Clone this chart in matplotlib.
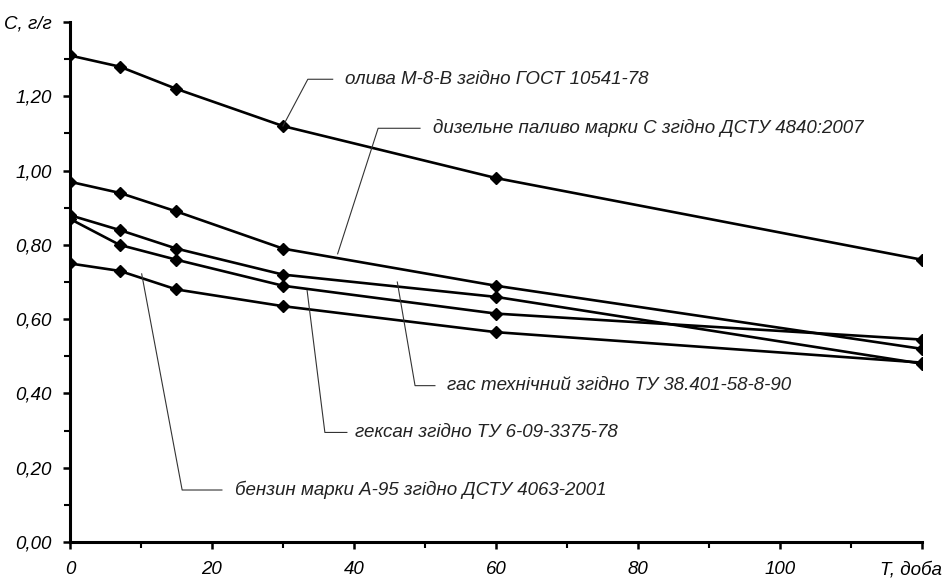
import matplotlib
matplotlib.use("Agg")
import matplotlib.pyplot as plt
from matplotlib.ticker import MultipleLocator
from matplotlib.transforms import ScaledTranslation

plt.rcParams['font.family'] = ['Liberation Sans', 'DejaVu Sans']

# ---- data ----
days = [0, 7, 15, 30, 60, 120]
oil = [1.31, 1.28, 1.22, 1.12, 0.98, 0.76]
diesel = [0.97, 0.94, 0.89, 0.79, 0.69, 0.52]
kerosene = [0.88, 0.84, 0.79, 0.72, 0.66, 0.48]
hexane = [0.87, 0.80, 0.76, 0.69, 0.615, 0.545]
benzine = [0.75, 0.73, 0.68, 0.635, 0.565, 0.483]

labels = [
    "олива М-8-В згідно ГОСТ 10541-78",
    "дизельне паливо марки С згідно ДСТУ 4840:2007",
    "гас технічний згідно ТУ 38.401-58-8-90",
    "гексан згідно ТУ 6-09-3375-78",
    "бензин марки А-95 згідно ДСТУ 4063-2001",
]
xtick_vals = [0, 20, 40, 60, 80, 100, 120]
xtick_labels = ["0", "20", "40", "60", "80", "100", "T, доба"]
ytick_vals = [0.0, 0.2, 0.4, 0.6, 0.8, 1.0, 1.2, 1.4]
ytick_labels = ["0,00", "0,20", "0,40", "0,60", "0,80", "1,00", "1,20", "C, г/г"]

fig = plt.figure(figsize=(9.48, 5.79), dpi=100)
ax = fig.add_axes([0.0738, 0.0639, 0.8988, 0.898])

for s in [oil, diesel, kerosene, hexane, benzine]:
    ax.plot(days, s, color='black', lw=1.9, marker='D', ms=6, mfc='black', mec='black')

ax.set_xlim(0, 120)
ax.set_ylim(0, 1.4)
for sp in ['top', 'right']:
    ax.spines[sp].set_visible(False)
for sp in ['left', 'bottom']:
    ax.spines[sp].set_linewidth(2.2)

ax.set_xticks(xtick_vals)
ax.set_xticklabels(xtick_labels, fontsize=13.5, style='italic')
ax.set_yticks(ytick_vals)
ax.set_yticklabels(ytick_labels, fontsize=13.5, style='italic')
ax.xaxis.set_minor_locator(MultipleLocator(10))
ax.yaxis.set_minor_locator(MultipleLocator(0.1))
ax.tick_params(axis='both', which='major', direction='out', length=5, width=1.8)
ax.tick_params(axis='both', which='minor', direction='out', length=4, width=1.5)
ax.tick_params(axis='x', which='major', pad=9)
ax.tick_params(axis='y', which='major', pad=8)

last = ax.get_xticklabels()[-1]
last.set_transform(last.get_transform() + ScaledTranslation(-0.11, 0, fig.dpi_scale_trans))

# leaders: (polyline xs, ys), text position
leaders = [
    ([30, 33.5, 37.0], [1.12, 1.246, 1.246], (38.7, 1.246)),
    ([37.7, 43.4, 49.3], [0.776, 1.114, 1.114], (51.1, 1.114)),
    ([46.1, 48.6, 51.4], [0.70, 0.421, 0.421], (53.1, 0.421)),
    ([33.4, 35.9, 39.0], [0.677, 0.295, 0.295], (40.1, 0.295)),
    ([10.1, 15.8, 21.4], [0.722, 0.14, 0.14], (23.2, 0.14)),
]
for (lx, ly, (tx, ty)), lab in zip(leaders, labels):
    ax.plot(lx, ly, color='#333333', lw=0.8)
    ax.text(tx, ty, lab, fontsize=13.5, style='italic', va='center', ha='left', color='#222222')

fig.savefig("out.png", dpi=100)
